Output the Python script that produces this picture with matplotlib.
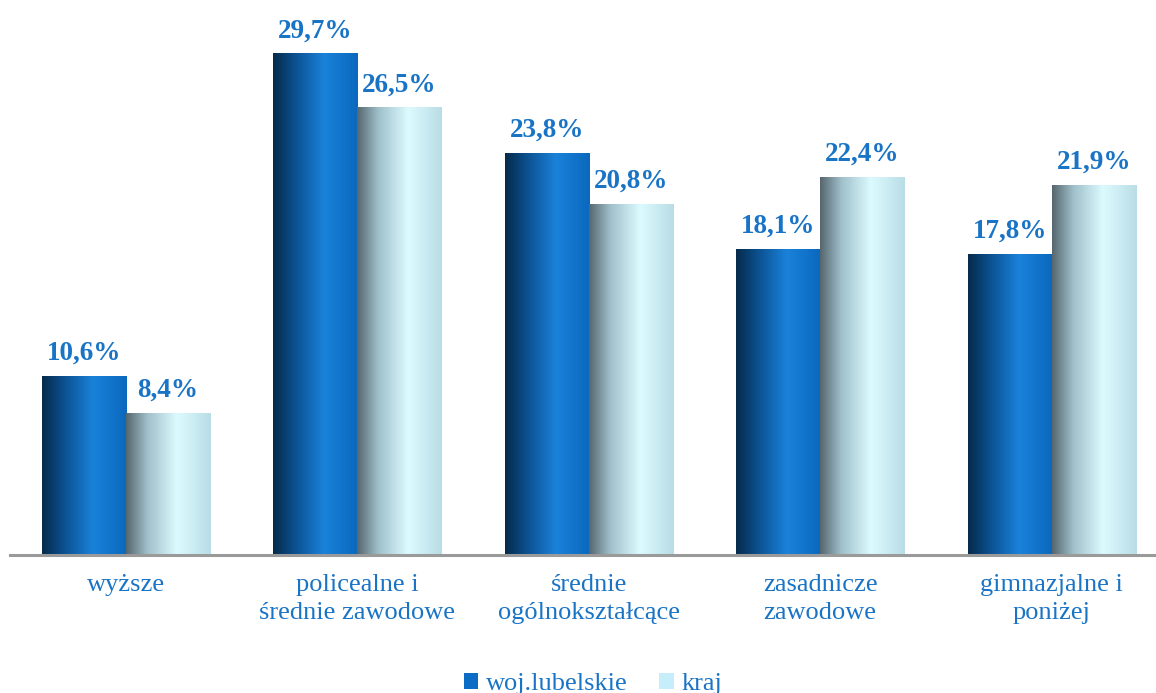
import numpy as np
import matplotlib
matplotlib.use("Agg")
import matplotlib.pyplot as plt
from matplotlib.colors import LinearSegmentedColormap
from matplotlib.patches import Patch

categories = ["wyższe", "policealne i\nśrednie zawodowe", "średnie\nogólnokształcące",
              "zasadnicze\nzawodowe", "gimnazjalne i\nponiżej"]
lubelskie = [10.6, 29.7, 23.8, 18.1, 17.8]
kraj = [8.4, 26.5, 20.8, 22.4, 21.9]
series_names = ["woj.lubelskie", "kraj"]

plt.rcParams['font.family'] = ['Liberation Serif', 'DejaVu Serif']

fig = plt.figure(figsize=(11.56, 6.93), dpi=100)
ax = fig.add_axes([10/1156, 138/693, 1 - 10/1156, 555/693])

x = np.arange(len(categories))
w = 0.363
b1 = ax.bar(x - w/2, lubelskie, w, color='none', edgecolor='none')
b2 = ax.bar(x + w/2, kraj, w, color='none', edgecolor='none')

cmap_dark = LinearSegmentedColormap.from_list('d', [(0, '#062a4a'), (0.25, '#0b4f8e'), (0.6, '#1a82da'), (1, '#0a68bd')])
cmap_light = LinearSegmentedColormap.from_list('l', [(0, '#56666e'), (0.25, '#9fbfca'), (0.6, '#dcfbff'), (1, '#b9dde6')])
grad = np.linspace(0, 1, 256).reshape(1, -1)
for bars, cm in ((b1, cmap_dark), (b2, cmap_light)):
    for r in bars:
        x0, y0 = r.get_x(), r.get_y()
        ax.imshow(grad, cmap=cm, aspect='auto', extent=[x0, x0 + r.get_width(), y0, y0 + r.get_height()],
                  interpolation='bicubic', zorder=2)

label_color = '#1a74c6'
for bars in (b1, b2):
    for r in bars:
        h = r.get_height()
        ax.annotate(f"{h:.1f}%".replace('.', ','), (r.get_x() + r.get_width()/2, h),
                    xytext=(0, 12), textcoords='offset points', ha='center', va='baseline',
                    fontsize=19.5, fontweight='bold', color=label_color)

ax.set_xlim(-0.501, 4.451)
ax.set_ylim(0, 555/16.87)
for s in ax.spines.values():
    s.set_visible(False)
ax.axhline(0, color='#9a9a9a', lw=2.2, zorder=3, clip_on=False)
ax.set_yticks([])
ax.set_xticks(x)
ax.set_xticklabels(categories, fontsize=19, color=label_color, linespacing=1.3)
ax.tick_params(axis='x', length=0, pad=14)

handles = [Patch(facecolor='#0a6cc4'), Patch(facecolor='#c6eefa')]
leg = fig.legend(handles, series_names, loc='lower center', bbox_to_anchor=(0.513, -0.037), ncol=2,
                 frameon=False, fontsize=19, handlelength=0.55, handleheight=0.55, handletextpad=0.3,
                 columnspacing=1.2)
for t in leg.get_texts():
    t.set_color(label_color)

fig.savefig('out.png', dpi=100)
